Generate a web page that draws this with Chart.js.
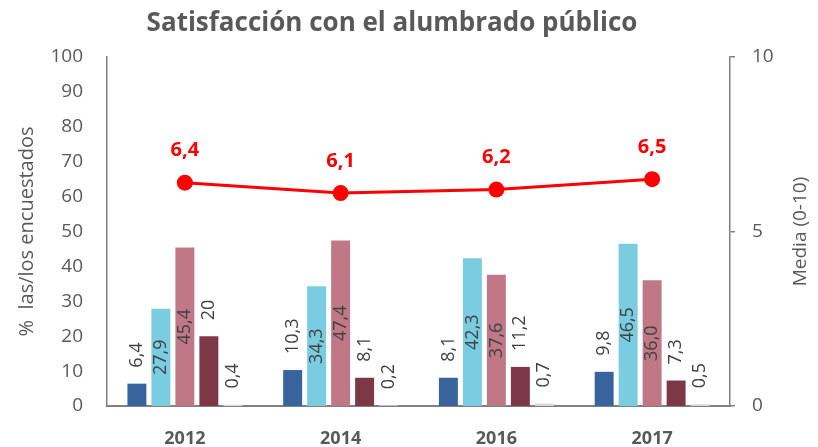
<!DOCTYPE html>
<html>
<head>
<meta charset="utf-8">
<script src="https://cdn.jsdelivr.net/npm/chart.js@4.4.1/dist/chart.umd.min.js"></script>
<style>
  html, body { margin: 0; padding: 0; background: #fff; }
</style>
</head>
<body>
<canvas id="grafico" width="818" height="447"></canvas>
<script>
// Datos (texto tal como aparece en las etiquetas)
const anios = ["2012", "2014", "2016", "2017"];
const serieAzul = ["6,4", "10,3", "8,1", "9,8"];
const serieCeleste = ["27,9", "34,3", "42,3", "46,5"];
const serieRosa = ["45,4", "47,4", "37,6", "36,0"];
const serieGranate = ["20", "8,1", "11,2", "7,3"];
const serieGris = ["0,4", "0,2", "0,7", "0,5"];
const media = ["6,4", "6,1", "6,2", "6,5"];

const num = arr => arr.map(s => parseFloat(s.replace(",", ".")));
const gris = "#595959";
const fuente = "'Open Sans', sans-serif";

// Titulo, etiquetas de datos y titulo del eje derecho, dibujados a mano
const etiquetas = {
    id: "etiquetas",
    afterDatasetsDraw(chart) {
        const ctx = chart.ctx;
        chart.data.datasets.forEach((ds, i) => {
            const meta = chart.getDatasetMeta(i);
            meta.data.forEach((el, j) => {
                const txt = ds.textos[j];
                ctx.save();
                if (ds.type === "line") {
                    ctx.font = "bold 20px " + fuente;
                    ctx.fillStyle = "#FF0000";
                    ctx.textAlign = "center";
                    ctx.textBaseline = "middle";
                    ctx.fillText(txt, el.x, el.y - 32);
                } else {
                    ctx.font = "18px " + fuente;
                    ctx.fillStyle = "#404040";
                    ctx.textBaseline = "middle";
                    ctx.translate(el.x, 0);
                    ctx.rotate(-Math.PI / 2);
                    if (ds.dentro) {
                        ctx.textAlign = "center";
                        ctx.fillText(txt, -(el.y + el.base) / 2, 0);
                    } else {
                        ctx.textAlign = "left";
                        ctx.fillText(txt, -(el.y - 16), 0);
                    }
                }
                ctx.restore();
            });
        });

        const a = chart.chartArea;
        ctx.save();
        ctx.fillStyle = gris;
        ctx.textAlign = "center";
        ctx.textBaseline = "middle";
        ctx.font = "bold 26px " + fuente;
        ctx.fillText("Satisfacción con el alumbrado público", 392, 24);
        // titulo del eje derecho, leido de abajo hacia arriba
        ctx.font = "19px " + fuente;
        ctx.translate(801, (a.top + a.bottom) / 2);
        ctx.rotate(-Math.PI / 2);
        ctx.fillText("Media (0-10)", 0, 0);
        ctx.restore();
    }
};

function barra(textos, color, dentro) {
    return {
        type: "bar",
        data: num(textos),
        textos: textos,
        dentro: dentro,
        backgroundColor: color,
        yAxisID: "y",
        categoryPercentage: 0.77,
        barPercentage: 0.79,
        order: 2
    };
}

new Chart(document.getElementById("grafico"), {
    data: {
        labels: anios,
        datasets: [
            {
                type: "line",
                data: num(media),
                textos: media,
                yAxisID: "y1",
                borderColor: "#FF0000",
                borderWidth: 3,
                pointRadius: 8,
                pointBackgroundColor: "#FF0000",
                pointBorderWidth: 0,
                order: 1
            },
            barra(serieAzul, "#39639D", false),
            barra(serieCeleste, "#7ACCE0", true),
            barra(serieRosa, "#C07886", true),
            barra(serieGranate, "#7D3847", false),
            barra(serieGris, "#D9D9D9", false)
        ]
    },
    plugins: [etiquetas],
    options: {
        responsive: false,
        devicePixelRatio: 1,
        animation: false,
        layout: { padding: { top: 57 } },
        plugins: {
            legend: { display: false },
            tooltip: { enabled: false },
            title: { display: false }
        },
        scales: {
            x: {
                grid: { display: false, drawTicks: false },
                border: { color: "#808080", width: 2 },
                ticks: { color: gris, padding: 22, font: { family: fuente, size: 18, weight: "bold" } },
                afterFit: s => { s.height = 41; }
            },
            y: {
                position: "left",
                min: 0,
                max: 100,
                grid: { display: false, drawTicks: false },
                border: { color: "#808080", width: 1.5 },
                ticks: { stepSize: 10, color: gris, padding: 24, font: { family: fuente, size: 19 } },
                title: {
                    display: true,
                    text: "%  las/los encuestados",
                    color: gris,
                    font: { family: fuente, size: 20 },
                    padding: { top: 15, bottom: 0 }
                },
                afterFit: s => { s.width = 107; }
            },
            y1: {
                position: "right",
                min: 0,
                max: 10,
                grid: { display: true, drawOnChartArea: false, tickLength: 5, color: "#808080", lineWidth: 1.5 },
                border: { color: "#808080", width: 1.5 },
                ticks: { stepSize: 5, color: gris, padding: 17, font: { family: fuente, size: 19 } },
                afterFit: s => { s.width = 88; }
            }
        }
    }
});
</script>
</body>
</html>
